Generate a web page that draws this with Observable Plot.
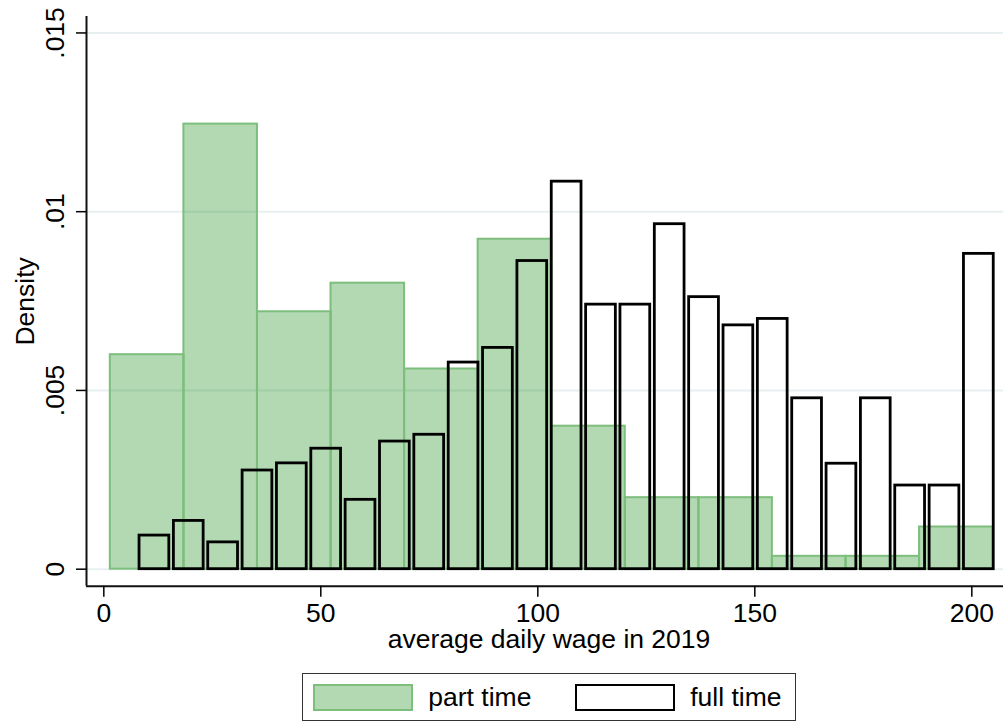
<!DOCTYPE html>
<html><head><meta charset="utf-8">
<script src="https://cdn.jsdelivr.net/npm/d3@7"></script>
<script src="https://cdn.jsdelivr.net/npm/@observablehq/plot@0.6"></script>
<style>
body{margin:0;background:#fff;font-family:"Liberation Sans",Arial,sans-serif;}
#wrap{position:relative;width:1003px;height:722px;overflow:hidden;}
#legend{position:absolute;left:301.7px;top:672.7px;width:494.3px;height:48px;border:1px solid #333;box-sizing:border-box;background:#fff;}
.sw{position:absolute;top:10.6px;width:99.4px;height:26.4px;box-sizing:border-box;}
.lt{position:absolute;top:10.6px;font-size:26.5px;line-height:26.5px;color:#000;white-space:nowrap;}
</style>
</head><body>
<div id="wrap"><div id="chart"></div>
<div id="legend">
  <div class="sw" style="left:10.6px;background:rgb(179,217,179);border:2px solid rgb(125,190,125);"></div>
  <span class="lt" id="lab0" style="left:125.6px;"></span>
  <div class="sw" style="left:272.6px;background:#fff;border:2.5px solid #000;"></div>
  <span class="lt" id="lab1" style="left:387.5px;"></span>
</div>
</div>
<script>
// ---- data ----
const seriesNames = ["part time", "full time"];
const partEdges = [1.5, 18.45, 35.4, 52.35, 69.3, 86.25, 103.2, 120.15, 137.1, 154.05, 171.0, 187.95, 204.9];
const partDensity = [0.0060, 0.01245, 0.0072, 0.0080, 0.0056, 0.00923, 0.0040, 0.0020, 0.0020, 0.00036, 0.00036, 0.00118];
const fullEdges = [7.7, 15.62, 23.53, 31.45, 39.36, 47.28, 55.19, 63.11, 71.02, 78.94, 86.85, 94.77, 102.68, 110.6, 118.51, 126.43, 134.34, 142.26, 150.17, 158.09, 166.0, 173.92, 181.83, 189.75, 197.66, 205.58];
const fullDensity = [0.00094, 0.00135, 0.00075, 0.00276, 0.00296, 0.00337, 0.00194, 0.00357, 0.00376, 0.00578, 0.00619, 0.00862, 0.01084, 0.0074, 0.0074, 0.00965, 0.00761, 0.00682, 0.007, 0.00478, 0.00295, 0.00478, 0.00234, 0.00234, 0.00882];
const xTicks = [0, 50, 100, 150, 200];
const yTicks = [0, 0.005, 0.01, 0.015];
const yTickLabels = ["0", ".005", ".01", ".015"];
const xLabel = "average daily wage in 2019";
const yLabel = "Density";

const partBins = partDensity.map((d, i) => ({x1: partEdges[i], x2: partEdges[i + 1], density: d}));
const fullBins = fullDensity.map((d, i) => ({x1: fullEdges[i], x2: fullEdges[i + 1], density: d}));

const xMin = -3.99, xMax = 207.3, yMin = -0.000476, yMax = 0.01546;
const fs = 26.5;

const chart = Plot.plot({
  width: 1003,
  height: 665,
  marginLeft: 86,
  marginRight: 0,
  marginTop: 16,
  marginBottom: 79.3,
  x: {domain: [xMin, xMax], axis: null},
  y: {domain: [yMin, yMax], axis: null},
  style: {fontFamily: '"Liberation Sans", Arial, sans-serif', color: "#000", background: "#fff"},
  marks: [
    Plot.ruleY(yTicks, {stroke: "#e8eff1", strokeWidth: 2}),
    Plot.rect(partBins, {x1: "x1", x2: "x2", y1: 0, y2: "density", fill: "rgb(0,128,0)", fillOpacity: 0.3, stroke: "rgb(125,190,125)", strokeWidth: 2}),
    Plot.rect(fullBins, {x1: "x1", x2: "x2", y1: 0, y2: "density", fill: "none", stroke: "#000", strokeWidth: 2.8, insetLeft: 2.3, insetRight: 2.3}),
    Plot.ruleX([xMin], {stroke: "#111", strokeWidth: 2}),
    Plot.ruleY([yMin], {stroke: "#111", strokeWidth: 2}),
    Plot.axisY({ticks: yTicks, tickSize: 10, tickFormat: () => "", label: null, strokeWidth: 1.5}),
    Plot.axisX({ticks: xTicks, tickSize: 11, tickFormat: () => "", label: null, strokeWidth: 1.5}),
    Plot.text(yTicks, {y: d => d, text: (d, i) => yTickLabels[i], frameAnchor: "left", rotate: -90, dx: -23, textAnchor: "middle", lineAnchor: "bottom", fontSize: fs}),
    Plot.text(xTicks, {x: d => d, text: d => String(d), frameAnchor: "bottom", dy: 35.8, lineAnchor: "bottom", fontSize: fs}),
    Plot.text([xLabel], {text: d => d, frameAnchor: "bottom", dy: 61.5, dx: 4, lineAnchor: "bottom", fontSize: fs}),
    Plot.text([yLabel], {text: d => d, frameAnchor: "left", dx: -53, rotate: -90, textAnchor: "middle", lineAnchor: "bottom", fontSize: fs})
  ]
});
document.getElementById("chart").appendChild(chart);
document.getElementById("lab0").textContent = seriesNames[0];
document.getElementById("lab1").textContent = seriesNames[1];
</script>
</body></html>
